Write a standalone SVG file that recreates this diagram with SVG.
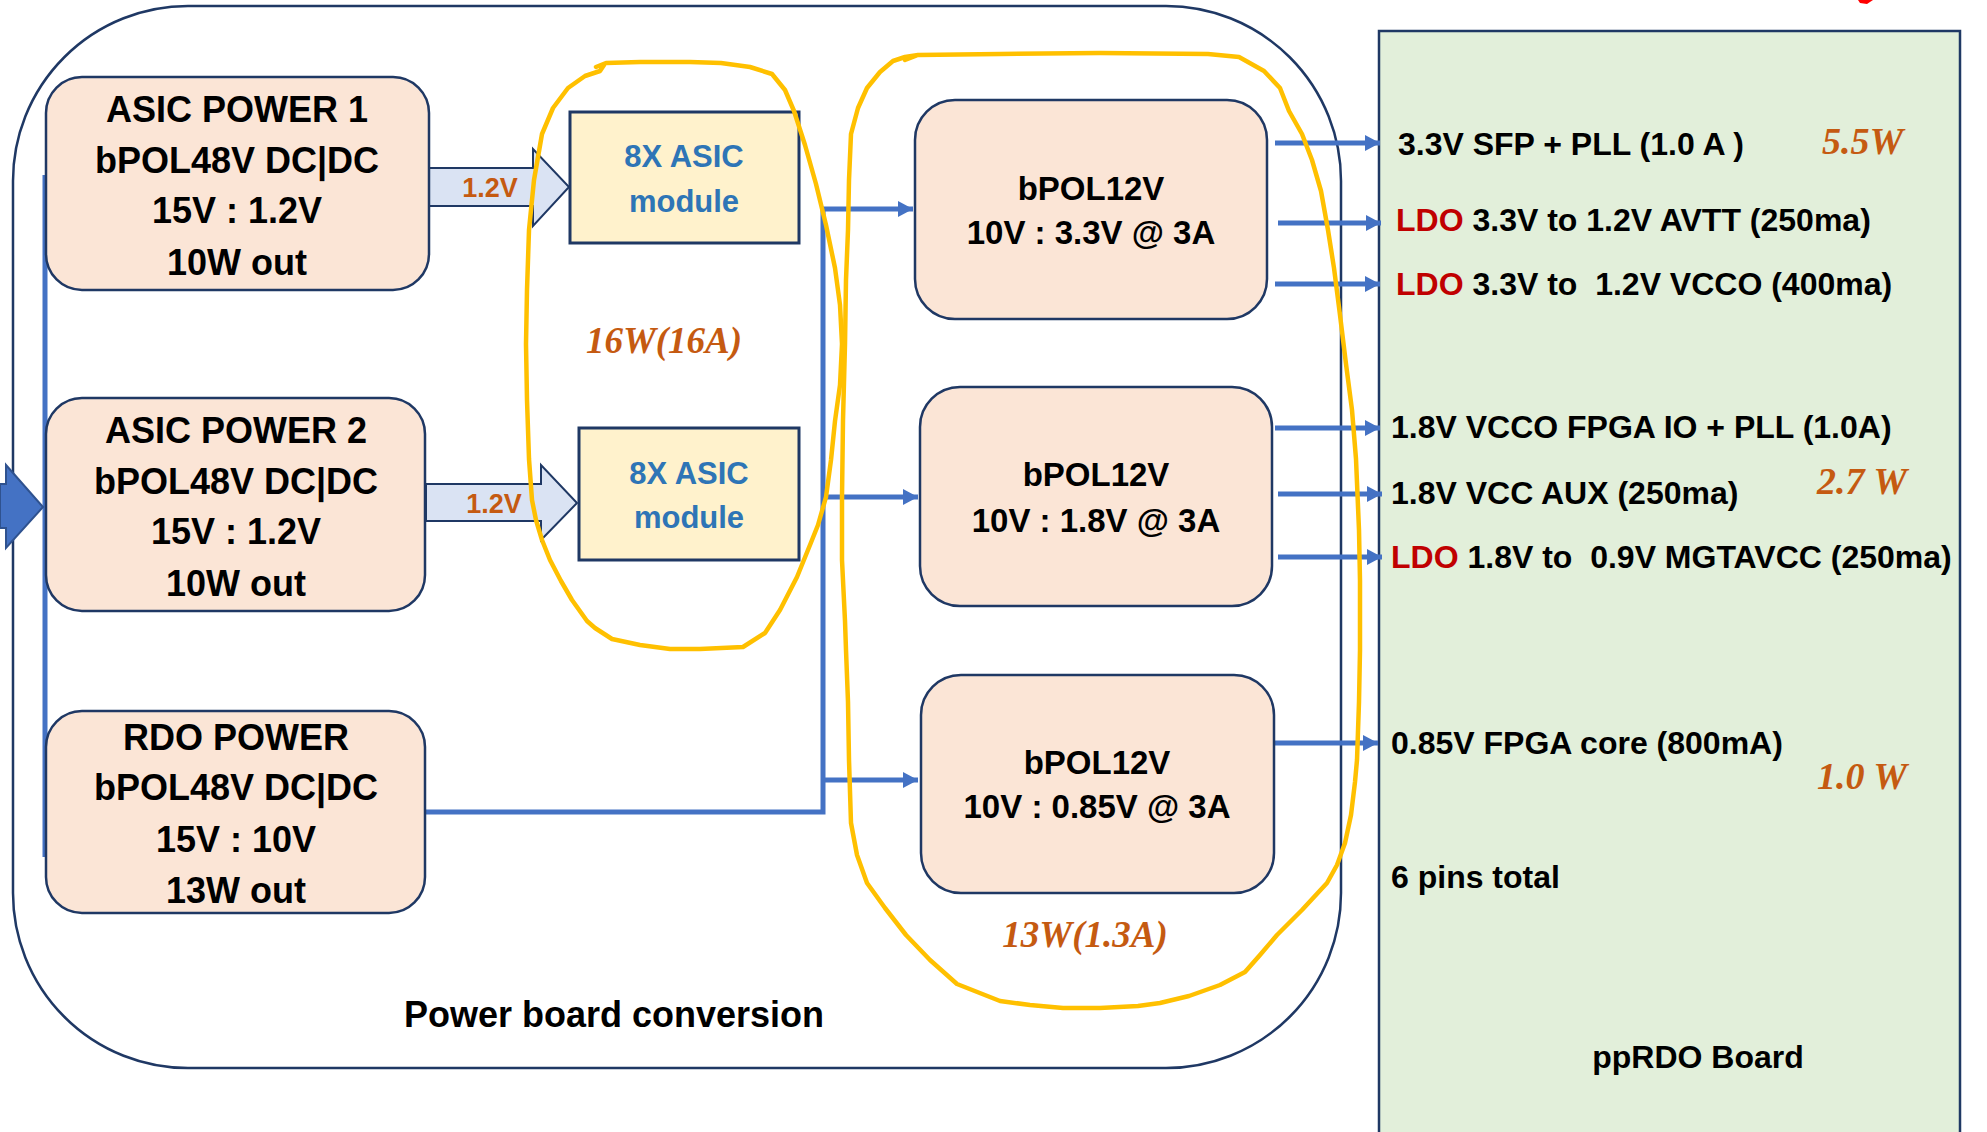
<svg xmlns="http://www.w3.org/2000/svg" width="1987" height="1132" viewBox="0 0 1987 1132">
<style>
.t{font-family:"Liberation Sans",Arial,sans-serif;font-weight:bold;fill:#000}
.nb{font-size:36px;text-anchor:middle}
.nr{font-size:33px;text-anchor:middle}
.g{font-size:32px}
.red{fill:#c00000}
.mod{font-size:31px;fill:#2e75b6;text-anchor:middle}
.v{font-size:27px;fill:#c55a11;text-anchor:middle}
.w{font-family:"Liberation Serif","Times New Roman",serif;font-style:italic;font-weight:bold;fill:#c55a11}
.box{fill:#fbe5d6;stroke:#1f3864;stroke-width:2.5}
.asic{fill:#fff2cc;stroke:#1f3864;stroke-width:3}
.blk{fill:#dae3f3;stroke:#1f3864;stroke-width:2}
.wire{fill:none;stroke:#4472c4;stroke-width:5}
.loop{fill:none;stroke:#ffc000;stroke-width:4.5;stroke-linejoin:round;stroke-linecap:round}
</style>
<defs>
<marker id="ah" markerUnits="userSpaceOnUse" markerWidth="16" markerHeight="16" refX="15" refY="8" orient="auto">
<path d="M0,0 L15,8 L0,16 Z" fill="#4472c4"/>
</marker>
</defs>
<rect width="1987" height="1132" fill="#fff"/>
<path d="M1858,0 L1873,0 L1867,4 L1860,3 Z" fill="#ff0000"/>

<g id="power-board">
<rect x="13" y="6" width="1328" height="1062" rx="175" ry="175" fill="none" stroke="#1f3864" stroke-width="2.5"/>
<text class="t" x="614" y="1027" font-size="36" text-anchor="middle">Power board conversion</text>
</g>

<g id="ppRDO-board">
<rect x="1379" y="31" width="581" height="1120" fill="#e2efda" stroke="#1f3864" stroke-width="2.5"/>
<text class="t g" x="1398" y="155">3.3V SFP + PLL (1.0 A )</text>
<text class="t g" x="1396" y="231" xml:space="preserve"><tspan class="red">LDO</tspan> 3.3V to 1.2V AVTT (250ma)</text>
<text class="t g" x="1396" y="295" xml:space="preserve"><tspan class="red">LDO</tspan> 3.3V to  1.2V VCCO (400ma)</text>
<text class="t g" x="1391" y="438">1.8V VCCO FPGA IO + PLL (1.0A)</text>
<text class="t g" x="1391" y="504">1.8V VCC AUX (250ma)</text>
<text class="t g" x="1391" y="568" xml:space="preserve"><tspan class="red">LDO</tspan> 1.8V to  0.9V MGTAVCC (250ma)</text>
<text class="t g" x="1391" y="754">0.85V FPGA core (800mA)</text>
<text class="t g" x="1391" y="888">6 pins total</text>
<text class="t g" x="1698" y="1068" text-anchor="middle">ppRDO Board</text>
<text class="w" x="1822" y="154" font-size="38">5.5W</text>
<text class="w" x="1817" y="494" font-size="38">2.7 W</text>
<text class="w" x="1817" y="789" font-size="38">1.0 W</text>
</g>

<g id="connectors">
<line class="wire" x1="45" y1="175" x2="45" y2="857" stroke-width="4"/>
<polyline class="wire" points="425,812 823,812 823,209"/>
<line class="wire" x1="821" y1="209" x2="913" y2="209" marker-end="url(#ah)"/>
<line class="wire" x1="823" y1="497" x2="918" y2="497" marker-end="url(#ah)"/>
<line class="wire" x1="823" y1="780" x2="918" y2="780" marker-end="url(#ah)"/>
<line class="wire" x1="1275" y1="143" x2="1380" y2="143" marker-end="url(#ah)"/>
<line class="wire" x1="1278" y1="223" x2="1381" y2="223" marker-end="url(#ah)"/>
<line class="wire" x1="1275" y1="284" x2="1380" y2="284" marker-end="url(#ah)"/>
<line class="wire" x1="1275" y1="428" x2="1380" y2="428" marker-end="url(#ah)"/>
<line class="wire" x1="1278" y1="494" x2="1382" y2="494" marker-end="url(#ah)"/>
<line class="wire" x1="1278" y1="557" x2="1382" y2="557" marker-end="url(#ah)"/>
<line class="wire" x1="1275" y1="743" x2="1378" y2="743" marker-end="url(#ah)"/>
<polygon points="0,484 6,484 6,465 43,507 6,548 6,528 0,528" fill="#4472c4" stroke="#2f528f" stroke-width="2"/>
<polygon class="blk" points="429,168 533,168 533,149 569,187 533,226 533,206 429,206"/>
<text class="t v" x="490" y="197">1.2V</text>
<polygon class="blk" points="426,484 541,484 541,465 577,503 541,540 541,521 426,521"/>
<text class="t v" x="494" y="513">1.2V</text>
</g>

<g id="asic-power-1">
<rect class="box" x="46" y="77" width="383" height="213" rx="36"/>
<text class="t nb" x="237" y="122">ASIC POWER 1</text>
<text class="t nb" x="237" y="173">bPOL48V DC|DC</text>
<text class="t nb" x="237" y="223">15V : 1.2V</text>
<text class="t nb" x="237" y="275">10W out</text>
</g>
<g id="asic-power-2">
<rect class="box" x="46" y="398" width="379" height="213" rx="36"/>
<text class="t nb" x="236" y="443">ASIC POWER 2</text>
<text class="t nb" x="236" y="494">bPOL48V DC|DC</text>
<text class="t nb" x="236" y="544">15V : 1.2V</text>
<text class="t nb" x="236" y="596">10W out</text>
</g>
<g id="rdo-power">
<rect class="box" x="46" y="711" width="379" height="202" rx="36"/>
<text class="t nb" x="236" y="750">RDO POWER</text>
<text class="t nb" x="236" y="800">bPOL48V DC|DC</text>
<text class="t nb" x="236" y="852">15V : 10V</text>
<text class="t nb" x="236" y="903">13W out</text>
</g>

<g id="asic-module-1">
<rect class="asic" x="570" y="112" width="229" height="131"/>
<text class="t mod" x="684" y="167">8X ASIC</text>
<text class="t mod" x="684" y="212">module</text>
</g>
<g id="asic-module-2">
<rect class="asic" x="579" y="428" width="220" height="132"/>
<text class="t mod" x="689" y="484">8X ASIC</text>
<text class="t mod" x="689" y="528">module</text>
</g>

<g id="bpol12v-33">
<rect class="box" x="915" y="100" width="352" height="219" rx="40"/>
<text class="t nr" x="1091" y="200">bPOL12V</text>
<text class="t nr" x="1091" y="244">10V : 3.3V @ 3A</text>
</g>
<g id="bpol12v-18">
<rect class="box" x="920" y="387" width="352" height="219" rx="40"/>
<text class="t nr" x="1096" y="486">bPOL12V</text>
<text class="t nr" x="1096" y="532">10V : 1.8V @ 3A</text>
</g>
<g id="bpol12v-085">
<rect class="box" x="921" y="675" width="353" height="218" rx="40"/>
<text class="t nr" x="1097" y="774">bPOL12V</text>
<text class="t nr" x="1097" y="818">10V : 0.85V @ 3A</text>
</g>

<g id="annotations">
<text class="w" x="664" y="353" font-size="37" text-anchor="middle">16W(16A)</text>
<text class="w" x="1085" y="947" font-size="37" text-anchor="middle">13W(1.3A)</text>
<path class="loop" d="M596,67 L606,63 L640,62 L690,62 L721,63 L750,67 L772,74 L785,90 L794,111 L805,145 L816,184 L826,225 L835,268 L840,305 L842,344 L840,385 L835,421 L831,460 L826,497 L818,525 L810,545 L797,577 L780,610 L765,633 L743,647 L700,649 L670,649 L640,645 L612,639 L595,628 L587,621 L572,600 L561,581 L550,560 L542,540 L536,520 L532,500 L529,459 L527,400 L526,344 L527,290 L529,230 L534,180 L542,134 L553,108 L568,88 L585,76 L600,71 L604,65"/>
<path class="loop" d="M905,60 L918,55 L1000,54 L1100,53 L1208,54 L1239,57 L1264,71 L1280,88 L1289,111 L1302,134 L1312,160 L1321,191 L1328,230 L1334,268 L1340,315 L1346,364 L1352,410 L1356,459 L1359,530 L1360,581 L1360,650 L1359,702 L1357,760 L1355,782 L1351,815 L1345,843 L1337,865 L1327,883 L1302,910 L1277,935 L1260,955 L1245,972 L1220,985 L1189,996 L1160,1003 L1138,1006 L1100,1008 L1063,1008 L1030,1005 L1000,1001 L957,984 L930,960 L906,935 L885,908 L867,883 L857,855 L851,823 L849,760 L848,702 L846,650 L845,621 L842,560 L842,497 L843,420 L845,344 L846,280 L848,230 L849,180 L851,134 L858,108 L867,88 L880,72 L893,61 L905,57 L918,55"/>
</g>
</svg>
